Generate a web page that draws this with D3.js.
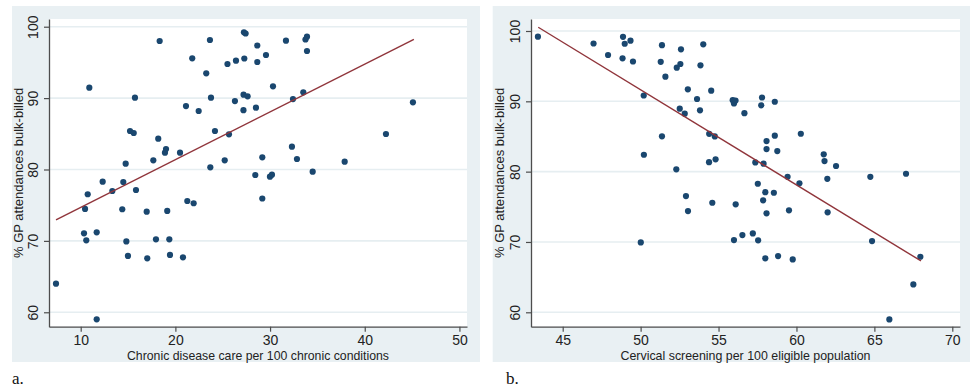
<!DOCTYPE html>
<html>
<head>
<meta charset="utf-8">
<script src="https://cdn.jsdelivr.net/npm/d3@7"></script>
<style>
  html, body { margin: 0; padding: 0; background: #ffffff; }
  svg { display: block; }
</style>
</head>
<body>
<svg id="chart" width="971" height="392"></svg>
<script>
// ---------- DATA ----------
// Panel a: chronic disease care per 100 chronic conditions vs % GP attendances bulk-billed
const chronicX = [7.39,10.35,10.46,10.59,10.74,10.91,11.69,11.69,12.32,13.34,14.39,14.50,14.75,14.82,14.99,15.21,15.60,15.73,15.84,16.97,17.03,17.67,17.95,18.19,18.34,18.90,19.01,19.14,19.36,19.43,20.49,20.80,21.12,21.26,21.78,21.93,22.46,23.26,23.65,23.69,23.76,24.18,25.21,25.50,25.66,26.29,26.40,27.19,27.20,27.28,27.24,27.42,27.63,28.44,28.51,28.65,28.65,29.18,29.18,29.57,29.99,30.20,30.31,31.68,32.31,32.42,32.84,33.51,33.74,33.90,33.90,34.50,37.88,42.24,45.09];
const chronicY = [64.0,71.06,74.47,70.08,76.53,91.46,71.2,59.02,78.29,76.99,74.43,78.25,80.81,69.92,67.89,85.39,85.11,90.06,77.13,74.09,67.56,81.29,70.22,84.31,98.0,82.35,82.87,74.19,70.22,68.03,82.35,67.70,88.89,75.59,95.57,75.27,88.19,93.47,98.14,80.31,90.06,85.39,81.29,94.78,84.93,89.59,95.24,88.31,90.48,95.55,99.22,99.05,90.25,79.23,88.66,97.37,95.06,81.71,75.94,96.04,78.99,79.27,91.65,98.04,83.19,89.87,81.47,90.81,98.21,98.6,96.6,79.69,81.09,84.97,89.41];
const chronicFit = [[7.39, 72.93], [45.19, 98.24]];

// Panel b: cervical screening per 100 eligible population vs % GP attendances bulk-billed
const cervicalX = [43.41,46.98,47.91,48.84,48.87,48.98,49.35,49.51,50.01,50.20,50.21,51.29,51.37,51.37,51.59,52.29,52.32,52.51,52.55,52.59,52.83,52.91,53.03,53.04,53.62,53.81,53.84,54.02,54.39,54.40,54.53,54.60,54.76,54.81,55.91,55.99,56.09,55.99,56.10,56.53,56.66,57.20,57.36,57.52,57.54,57.74,57.79,57.86,57.89,58.00,58.00,58.08,58.08,58.08,58.55,58.61,58.61,58.77,58.82,59.43,59.52,59.76,60.19,60.28,61.75,61.80,61.98,62.00,62.54,64.74,64.85,65.96,67.03,67.50,67.95];
const cervicalY = [99.19,98.22,96.59,96.12,99.17,98.19,98.62,95.66,69.94,90.83,82.40,95.62,97.98,85.02,93.5,80.33,94.78,88.95,95.31,97.40,88.24,76.53,91.71,74.40,90.33,88.72,95.12,98.11,81.34,85.38,91.51,75.58,85.01,81.75,90.16,89.69,90.11,70.27,75.35,70.98,88.31,71.22,81.31,78.28,70.23,89.43,90.54,75.92,81.14,77.08,67.68,84.35,83.21,74.07,77.0,89.94,85.11,82.93,68.0,79.26,74.5,67.52,78.34,85.39,82.46,81.51,78.98,74.22,80.80,79.27,70.13,58.99,79.70,63.97,67.90];
const cervicalFit = [[43.43, 100.53], [67.99, 67.30]];

const chronicTicks = [10, 20, 30, 40, 50];
const cervicalTicks = [45, 50, 55, 60, 65, 70];
const yTicks = [60, 70, 80, 90, 100];

const yTitle = "% GP attendances bulk-billed";
const chronicTitle = "Chronic disease care per 100 chronic conditions";
const cervicalTitle = "Cervical screening per 100 eligible population";
const panelLabels = ["a.", "b."];

// ---------- STYLE ----------
const BG = "#e9f0f3";
const GRID = "#e6eef1";
const AXIS = "#4d4d4d";
const DOT = "#1a476f";
const FIT = "#90353b";
const FONT = "'Liberation Sans', Arial, sans-serif";

const svg = d3.select("#chart");

function panel(cfg) {
  const g = svg.append("g");
  // outer graph region
  g.append("rect")
    .attr("x", cfg.bg[0]).attr("y", cfg.bg[1])
    .attr("width", cfg.bg[2] - cfg.bg[0]).attr("height", cfg.bg[3] - cfg.bg[1])
    .attr("fill", BG);
  // plot region
  const [L, T, R, B] = cfg.plot;
  g.append("rect")
    .attr("x", L).attr("y", T).attr("width", R - L).attr("height", B - T)
    .attr("fill", "#ffffff");

  const x = d3.scaleLinear().domain(cfg.xDomain).range([L, R]);
  const y = d3.scaleLinear().domain(cfg.yDomain).range([B, T]);

  // gridlines
  g.append("g").selectAll("line").data(yTicks).join("line")
    .attr("x1", L).attr("x2", R)
    .attr("y1", d => y(d)).attr("y2", d => y(d))
    .attr("stroke", GRID).attr("stroke-width", 1.6);

  // points
  g.append("g").selectAll("circle").data(cfg.xs.map((v, i) => [v, cfg.ys[i]])).join("circle")
    .attr("cx", d => x(d[0])).attr("cy", d => y(d[1]))
    .attr("r", 3.1).attr("fill", DOT);

  // fit line
  g.append("path")
    .datum(cfg.fit)
    .attr("d", d3.line().x(d => x(d[0])).y(d => y(d[1])))
    .attr("fill", "none").attr("stroke", FIT).attr("stroke-width", 1.4);

  // x axis
  const xa = g.append("g").attr("transform", `translate(0,${B})`)
    .call(d3.axisBottom(x).tickValues(cfg.xTicks).tickSize(5).tickPadding(3).tickSizeOuter(0));
  xa.select(".domain").attr("stroke", AXIS).attr("stroke-width", 1.3);
  xa.selectAll(".tick line").attr("stroke", AXIS).attr("stroke-width", 1.2);
  xa.selectAll(".tick text").attr("fill", "#222").attr("font-family", FONT).attr("font-size", 14);

  // y axis
  const ya = g.append("g").attr("transform", `translate(${L},0)`)
    .call(d3.axisLeft(y).tickValues(yTicks).tickSize(5).tickPadding(3).tickSizeOuter(0));
  ya.select(".domain").attr("stroke", AXIS).attr("stroke-width", 1.3);
  ya.selectAll(".tick line").attr("stroke", AXIS).attr("stroke-width", 1.2);
  ya.selectAll(".tick text")
    .attr("fill", "#222").attr("font-family", FONT).attr("font-size", 14)
    .attr("x", null).attr("dy", null)
    .attr("text-anchor", "middle")
    .attr("transform", `translate(${-11},0) rotate(-90)`);

  // axis titles
  g.append("text")
    .attr("x", (L + R) / 2).attr("y", cfg.xTitleY)
    .attr("text-anchor", "middle").attr("font-family", FONT).attr("font-size", 13)
    .attr("textLength", cfg.xTitleLen).attr("lengthAdjust", "spacingAndGlyphs")
    .attr("fill", "#222").text(cfg.xTitle);
  g.append("text")
    .attr("transform", `translate(${cfg.yTitleX},${(T + B) / 2}) rotate(-90)`)
    .attr("text-anchor", "middle").attr("font-family", FONT).attr("font-size", 13)
    .attr("fill", "#222").text(yTitle);

  // panel label
  g.append("text")
    .attr("x", cfg.labelX).attr("y", 384)
    .attr("font-family", "'Liberation Serif', 'Times New Roman', serif").attr("font-size", 17)
    .attr("fill", "#111").text(cfg.label);
}

panel({
  bg: [12, 6, 480, 362],
  plot: [49, 19, 467, 326.7],
  xDomain: [6.652, 50.80],
  yDomain: [57.98, 101.08],
  xs: chronicX, ys: chronicY, fit: chronicFit,
  xTicks: chronicTicks,
  xTitle: chronicTitle, xTitleY: 359.5, xTitleLen: 262,
  yTitleX: 23,
  label: panelLabels[0], labelX: 12
});

panel({
  bg: [492.7, 6, 970, 362],
  plot: [531, 19, 960, 326.7],
  xDomain: [42.966, 70.494],
  yDomain: [57.952, 101.706],
  xs: cervicalX, ys: cervicalY, fit: cervicalFit,
  xTicks: cervicalTicks,
  xTitle: cervicalTitle, xTitleY: 359.5, xTitleLen: 250,
  yTitleX: 504,
  label: panelLabels[1], labelX: 506
});
</script>
</body>
</html>
